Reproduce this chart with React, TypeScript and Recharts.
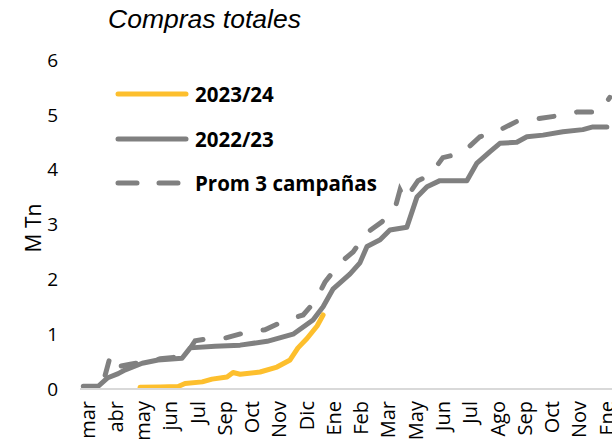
import React from 'react';
import { LineChart, Line, XAxis, YAxis } from 'recharts';

// x positions are in "tick units": 0 = first month label, 1 = second, ...
const monthLabels = ['mar', 'abr', 'may', 'jun', 'Jul', 'Sep', 'Oct', 'Nov', 'Dic', 'Ene', 'Feb', 'Mar', 'May', 'Jun', 'Jul', 'Ago', 'Sep', 'Oct', 'Nov', 'Ene'];
const yTicks = [0, 1, 2, 3, 4, 5, 6];

const t2324 = [1.9, 2.64, 3.3, 3.55, 4.18, 4.54, 5.09, 5.31, 5.57, 6.3, 6.92, 7.4, 7.69, 8.02, 8.39, 8.61];
const v2324 = [0.03, 0.035, 0.045, 0.1, 0.13, 0.18, 0.22, 0.3, 0.27, 0.31, 0.4, 0.53, 0.75, 0.92, 1.15, 1.35];

const t2223 = [-0.18, 0.37, 0.7, 1.1, 1.36, 1.98, 2.56, 3.44, 3.74, 4.65, 5.57, 6.56, 7.51, 8.24, 8.61, 8.97, 9.6, 9.96, 10.22, 10.7, 11.06, 11.68, 12.05, 12.42, 12.89, 13.88, 14.25, 14.73, 15.09, 15.71, 16.08, 16.67, 17.4, 18.13, 18.5, 19.01];
const v2223 = [0.05, 0.05, 0.2, 0.28, 0.35, 0.47, 0.53, 0.56, 0.75, 0.78, 0.8, 0.87, 1.0, 1.26, 1.5, 1.82, 2.1, 2.3, 2.6, 2.72, 2.9, 2.95, 3.5, 3.69, 3.8, 3.8, 4.12, 4.33, 4.48, 4.5, 4.6, 4.63, 4.69, 4.73, 4.78, 4.78];

const tProm = [0.62, 0.81, 0.99, 1.54, 2.09, 2.64, 3.55, 3.92, 4.47, 5.02, 5.93, 6.48, 7.22, 7.88, 8.32, 8.68, 9.23, 9.71, 10.22, 10.77, 11.25, 11.43, 11.61, 12.09, 12.53, 13.0, 13.7, 14.36, 14.91, 15.71, 16.37, 17.18, 17.91, 18.68, 18.86, 19.12];
const vProm = [0.25, 0.6, 0.4, 0.45, 0.5, 0.55, 0.6, 0.88, 0.92, 0.93, 1.05, 1.08, 1.25, 1.35, 1.6, 1.95, 2.3, 2.5, 2.85, 3.05, 3.3, 3.63, 3.45, 3.8, 3.9, 4.22, 4.3, 4.6, 4.68, 4.88, 4.92, 4.98, 5.05, 5.05, 5.12, 5.32];

const toRows = (ts: number[], vs: number[]) => ts.map((t, i) => ({ t, v: vs[i] }));

const YELLOW = '#FDBF2D';
const GRAY = '#808080';
const FONT = '"Open Sans", sans-serif';

const MonthTick = ({ x, y, payload }: any) => (
  <text
    x={x}
    y={y}
    dy="0.36em"
    transform={`rotate(-90, ${x}, ${y})`}
    textAnchor="end"
    fill="#000"
    fontSize={20}
    fontFamily={FONT}
  >
    {monthLabels[payload.value]}
  </text>
);

const legendItems = [
  { name: '2023/24', color: YELLOW, dash: undefined },
  { name: '2022/23', color: GRAY, dash: undefined },
  { name: 'Prom 3 campañas', color: GRAY, dash: '19 22' },
];

export default function App() {
  return (
    <div style={{ position: 'absolute', left: 0, top: 0, width: 612, height: 442, background: '#fff', fontFamily: FONT, overflow: 'hidden' }}>
      <LineChart width={612} height={442} margin={{ top: 60, right: 0, bottom: 0, left: 0 }}>
        <XAxis
          dataKey="t"
          type="number"
          domain={[-0.3, 19.2]}
          ticks={monthLabels.map((_, i) => i)}
          interval={0}
          tick={<MonthTick />}
          tickLine={false}
          tickMargin={6}
          axisLine={{ stroke: '#D9D9D9', strokeWidth: 2 }}
          height={53}
        />
        <YAxis
          dataKey="v"
          type="number"
          domain={[0, 6]}
          ticks={yTicks}
          width={80}
          axisLine={false}
          tickLine={false}
          tickMargin={16}
          tick={{ fill: '#000', fontSize: 19, fontFamily: FONT }}
        />
        <Line data={toRows(tProm, vProm)} dataKey="v" stroke={GRAY} strokeWidth={5} strokeDasharray="15 23" strokeLinecap="round" dot={false} isAnimationActive={false} />
        <Line data={toRows(t2223, v2223)} dataKey="v" stroke={GRAY} strokeWidth={5} strokeLinecap="round" strokeLinejoin="round" dot={false} isAnimationActive={false} />
        <Line data={toRows(t2324, v2324)} dataKey="v" stroke={YELLOW} strokeWidth={5} strokeLinecap="round" strokeLinejoin="round" dot={false} isAnimationActive={false} />
      </LineChart>

      <div style={{ position: 'absolute', left: 108, top: 4, fontFamily: '"Liberation Sans", Arial, sans-serif', fontStyle: 'italic', fontSize: 26.5, color: '#000', whiteSpace: 'nowrap' }}>
        Compras totales
      </div>

      <div style={{ position: 'absolute', left: 33, top: 228, transform: 'translate(-50%, -50%) rotate(-90deg)', fontSize: 21, color: '#000', whiteSpace: 'nowrap' }}>
        M Tn
      </div>

      <div style={{ position: 'absolute', left: 114, top: 72 }}>
        {legendItems.map((item) => (
          <div key={item.name} style={{ display: 'flex', alignItems: 'center', height: 44.5 }}>
            <svg width={80} height={10}>
              <line x1={4} y1={5} x2={72} y2={5} stroke={item.color} strokeWidth={5} strokeLinecap="round" strokeDasharray={item.dash} />
            </svg>
            <span style={{ fontWeight: 700, fontSize: 20.5, color: '#000', marginLeft: 1, whiteSpace: 'nowrap' }}>{item.name}</span>
          </div>
        ))}
      </div>
    </div>
  );
}
